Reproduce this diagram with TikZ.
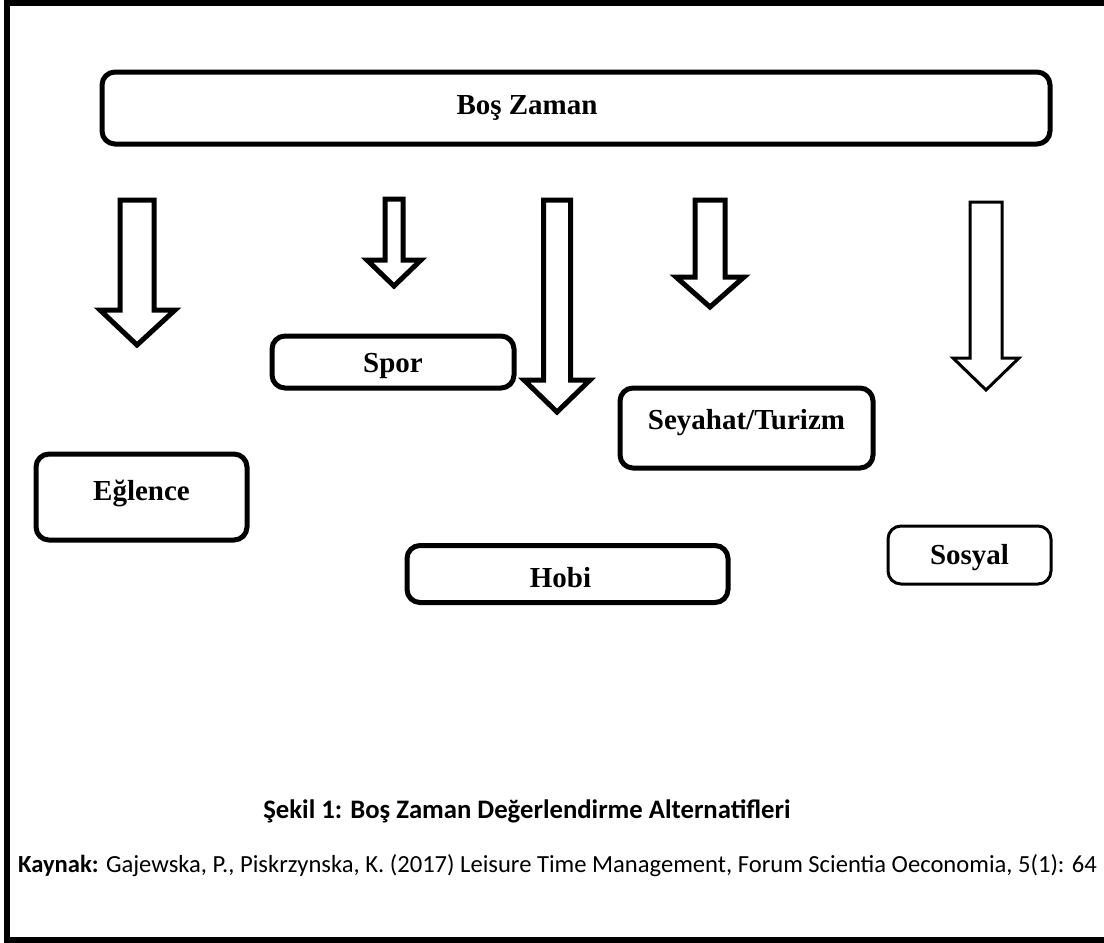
\documentclass[tikz,border=0pt]{standalone}
\usepackage{fontspec}
\setmainfont{Liberation Serif}
\newfontfamily\capfont{Carlito}
\usetikzlibrary{positioning}

\begin{document}
\begin{tikzpicture}[x=1pt, y=-1pt,
  box/.style={draw, line width=5pt, rounded corners=13pt, inner sep=0pt,
    font=\fontsize{29}{31}\selectfont\bfseries},
  thinbox/.style={box, line width=3pt},
  lbl/.style={font=\fontsize{29}{31}\selectfont\bfseries},
  arr/.style={draw, line width=5pt, fill=white},
  thinarr/.style={arr, line width=3pt}]
  \useasboundingbox (0,0) rectangle (1104,943);

  % Frame
  \draw[line width=6pt] (1110,2.5) -- (7,2.5) -- (7,940) -- (1110,940);

  % Top box
  \node[box, minimum width=948pt, minimum height=72pt,
    label={[lbl, xshift=-49pt, yshift=0pt]center:Boş Zaman}] (boszaman) at (576,108) {};

  % Block arrows
  \draw[arr] (120,200) -- (154,200) -- (154,310) -- (175,310) -- (137,345) -- (100,310) -- (120,310) -- cycle;
  \draw[arr] (385,199) -- (403,199) -- (403,260) -- (421,260) -- (394,286) -- (367,260) -- (385,260) -- cycle;
  \draw[arr] (543.5,200) -- (570.5,200) -- (570.5,380) -- (590,380) -- (557,412) -- (524,380) -- (543.5,380) -- cycle;
  \draw[arr] (695,200) -- (725,200) -- (725,277) -- (744,277) -- (710,307) -- (676,277) -- (695,277) -- cycle;
  \draw[thinarr] (970,202) -- (1002,202) -- (1002,358) -- (1019,358) -- (986,390) -- (953,358) -- (970,358) -- cycle;

  % Activity boxes
  \node[box, minimum width=242pt, minimum height=52pt,
    label={[lbl, yshift=-4pt]center:Spor}] (spor) at (393,362) {};
  \node[box, minimum width=253pt, minimum height=80pt,
    label={[lbl, yshift=5pt]center:Seyahat/Turizm}] (seyahat) at (746.5,428) {};
  \node[box, minimum width=211pt, minimum height=86pt,
    label={[lbl, yshift=4pt]center:Eğlence}] (eglence) at (141.5,497) {};
  \node[box, minimum width=321pt, minimum height=57pt,
    label={[lbl, xshift=-7pt, yshift=-4pt]center:Hobi}] (hobi) at (567.5,574) {};
  \node[thinbox, minimum width=163pt, minimum height=58pt,
    label={[lbl, yshift=-3pt]center:Sosyal}] (sosyal) at (969.5,555) {};

  % Caption and source
  \node[font=\capfont\bfseries\fontsize{26.7}{30}\selectfont] (caption) at (527,811)
    {Şekil 1: Boş Zaman Değerlendirme Alternatifleri};
  \node[anchor=west, inner sep=0pt, font=\capfont\fontsize{24.6}{28}\selectfont] (kaynak) at (18,866)
    {\textbf{Kaynak:} Gajewska, P., Piskrzynska, K. (2017) Leisure Time Management, Forum Scientia Oeconomia, 5(1): 64};
\end{tikzpicture}
\end{document}
